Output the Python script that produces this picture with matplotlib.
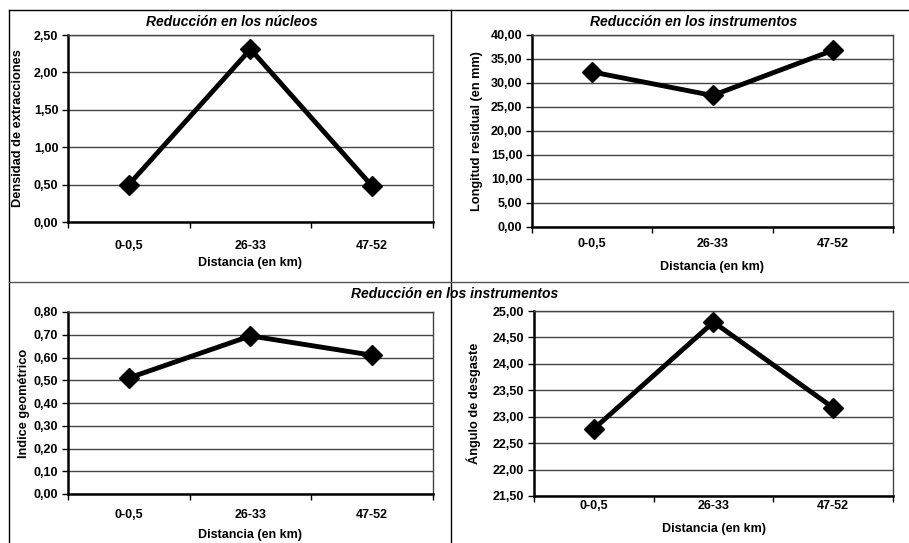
import matplotlib
matplotlib.use('Agg')
import matplotlib.pyplot as plt
from matplotlib.lines import Line2D
from matplotlib.ticker import FixedLocator

plt.rcParams['font.family'] = ['Liberation Sans', 'DejaVu Sans']
plt.rcParams['font.weight'] = 'bold'

# data
categorias = ['0-0,5', '26-33', '47-52']
densidad = [0.50, 2.31, 0.48]
longitud = [32.3, 27.4, 36.8]
indice = [0.51, 0.695, 0.61]
angulo = [22.77, 24.79, 23.17]

xlabel = 'Distancia (en km)'

fig = plt.figure(figsize=(9.09, 5.43), dpi=100)
W, H = 909.0, 543.0

def box(l, t, r, b):
    return [l / W, 1 - b / H, (r - l) / W, (b - t) / H]

def panel(rect, vals, ymin, ymax, step, ylab, tpad, xl_dist, yl_x):
    l, t, r, b = rect
    ax = fig.add_axes(box(*rect))
    x = list(range(len(categorias)))
    ax.plot(x, vals, color='black', lw=3.5, marker='D', ms=10, zorder=5, clip_on=False)
    ax.set_xlim(-0.5, len(categorias) - 0.5)
    ax.set_ylim(ymin, ymax)
    n = int(round((ymax - ymin) / step))
    ticks = [ymin + i * step for i in range(n + 1)]
    ax.set_yticks(ticks)
    ax.set_yticklabels([('%.2f' % v).replace('.', ',') for v in ticks])
    ax.yaxis.grid(True, color='#444444', lw=1)
    ax.set_axisbelow(True)
    ax.set_xticks(x)
    ax.set_xticklabels(categorias)
    ax.xaxis.set_minor_locator(FixedLocator([i - 0.5 for i in range(len(categorias) + 1)]))
    ax.tick_params(axis='x', which='major', length=0, pad=tpad, labelsize=9)
    ax.tick_params(axis='x', which='minor', length=4, width=1, direction='out')
    ax.tick_params(axis='y', length=4, width=1, direction='out', labelsize=9, pad=3)
    for s in ['left', 'bottom']:
        ax.spines[s].set_linewidth(1.8)
        ax.spines[s].set_color('black')
    for s in ['top', 'right']:
        ax.spines[s].set_linewidth(1)
        ax.spines[s].set_color('#444444')
    ax.set_xlabel(xlabel, fontsize=9, fontweight='bold')
    ax.xaxis.set_label_coords(0.5, -xl_dist / (b - t))
    ax.xaxis.label.set_va('center')
    ax.set_ylabel(ylab, fontsize=9.2, fontweight='bold')
    ax.yaxis.set_label_coords(-(l - yl_x) / (r - l), 0.5)
    ax.yaxis.label.set_va('center')
    return ax

ax1 = panel((68, 35, 433, 222), densidad, 0, 2.5, 0.5, 'Densidad de extracciones', 13, 41, 18)
ax2 = panel((532, 35, 893, 227), longitud, 0, 40, 5, 'Longitud residual (en mm)', 8, 40, 477)
ax3 = panel((68, 312, 433, 494), indice, 0, 0.8, 0.1, 'Indice geométrico', 10.8, 41, 24)
ax4 = panel((534, 311, 893, 496), angulo, 21.5, 25, 0.5, 'Ángulo de desgaste', 3, 33, 474)

fig.text(232 / W, 1 - 22 / H, 'Reducción en los núcleos', ha='center', va='center',
         fontsize=10, fontweight='bold', style='italic')
fig.text(694 / W, 1 - 22 / H, 'Reducción en los instrumentos', ha='center', va='center',
         fontsize=10, fontweight='bold', style='italic')
fig.text(455 / W, 1 - 294 / H, 'Reducción en los instrumentos', ha='center', va='center',
         fontsize=10, fontweight='bold', style='italic')

# frames around the panels
def fline(x0, y0, x1, y1, c='black', lw=1):
    fig.add_artist(Line2D([x0 / W, x1 / W], [1 - y0 / H, 1 - y1 / H], color=c, lw=lw))

fline(9, 10, 909, 10)
fline(9, 10, 9, 543)
fline(451, 10, 451, 543)
fline(9, 282, 909, 282, c='#555555')

fig.savefig('out.png', dpi=100)
